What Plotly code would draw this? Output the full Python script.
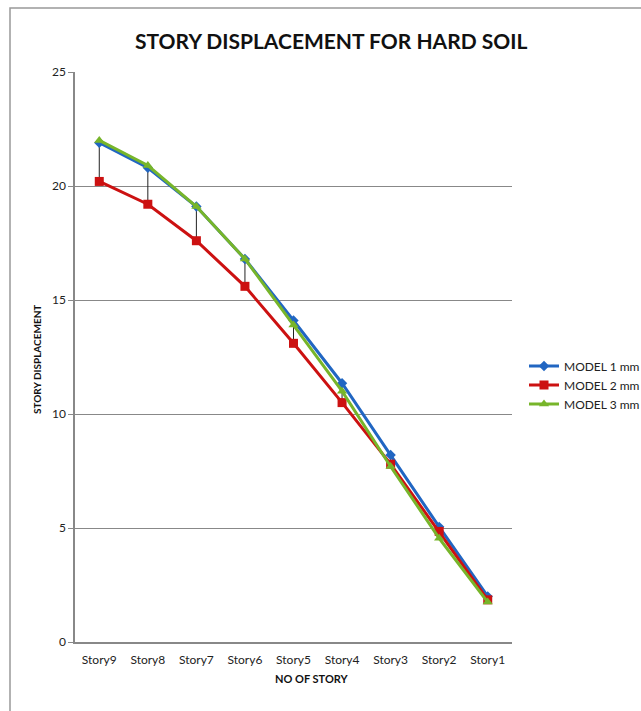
import plotly.graph_objects as go

categories = ["Story9", "Story8", "Story7", "Story6", "Story5", "Story4", "Story3", "Story2", "Story1"]
model1 = [21.9, 20.8, 19.1, 16.8, 14.1, 11.35, 8.2, 5.05, 2.0]
model2 = [20.2, 19.2, 17.6, 15.6, 13.1, 10.5, 7.8, 4.85, 1.85]
model3 = [22.0, 20.9, 19.1, 16.8, 13.9, 11.0, 7.7, 4.55, 1.75]
series_names = ["MODEL 1 mm", "MODEL 2 mm", "MODEL 3 mm"]
y_ticks = [0, 5, 10, 15, 20, 25]

FONT = "Lato"
W, H = 641, 711
L, R, T, B = 75, 129, 72, 69
pw, ph = W - L - R, H - T - B

def px_x(p):
    return (p - L) / pw

def px_y(p):
    return (H - B - p) / ph

fig = go.Figure()

# high-low drop lines
hx, hy = [], []
for c, a, b, d in zip(categories, model1, model2, model3):
    hx += [c, c, None]
    hy += [max(a, b, d), min(a, b, d), None]
fig.add_trace(go.Scatter(x=hx, y=hy, mode="lines", line=dict(color="#222222", width=1),
                         showlegend=False, hoverinfo="skip"))

styles = [
    ("#2166C2", "diamond", 8),
    ("#CC1111", "square", 9),
    ("#77B52A", "triangle-up", 9),
]
for name, vals, (col, sym, sz) in zip(series_names, [model1, model2, model3], styles):
    fig.add_trace(go.Scatter(x=categories, y=vals, mode="lines+markers", name=name,
                             line=dict(color=col, width=3),
                             marker=dict(symbol=sym, size=sz, color=col)))

fig.update_layout(
    width=W, height=H,
    margin=dict(l=L, r=R, t=T, b=B, autoexpand=False),
    paper_bgcolor="white", plot_bgcolor="white",
    font=dict(family=FONT, size=12, color="#222222"),
    legend=dict(x=px_x(524), y=px_y(385), xanchor="left", yanchor="middle",
                font=dict(size=12, family=FONT, color="#222222"), bgcolor="rgba(0,0,0,0)",
                tracegroupgap=2),
    xaxis=dict(type="category", range=[-0.5, 8.5], showgrid=False,
               showline=True, linecolor="#888888", linewidth=1.5,
               ticks="outside", ticklen=6, tickcolor="rgba(0,0,0,0)",
               tickfont=dict(size=12), title=None),
    yaxis=dict(range=[0, 25], tickvals=y_ticks, showgrid=True, gridcolor="#888888",
               gridwidth=1.3, zeroline=False, showline=True, linecolor="#888888",
               linewidth=1.5, ticks="outside", ticklen=5, tickcolor="#888888",
               tickfont=dict(size=12), title=None),
    shapes=[dict(type="rect", xref="paper", yref="paper",
                 x0=px_x(10), x1=px_x(700), y0=px_y(760), y1=px_y(8),
                 line=dict(color="#999999", width=1.5), layer="below")],
    annotations=[
        dict(text="<b>STORY DISPLACEMENT FOR HARD SOIL</b>", xref="paper", yref="paper",
             x=px_x(331), y=px_y(40), xanchor="center", yanchor="middle",
             showarrow=False, font=dict(size=21, family=FONT, color="#111111")),
        dict(text="<b>NO OF STORY</b>", xref="paper", yref="paper",
             x=px_x(312), y=px_y(678), xanchor="center", yanchor="middle",
             showarrow=False, font=dict(size=11, family=FONT, color="#111111")),
        dict(text="<b>STORY DISPLACEMENT</b>", xref="paper", yref="paper",
             x=px_x(37), y=px_y(360), xanchor="center", yanchor="middle", textangle=-90,
             showarrow=False, font=dict(size=10, family=FONT, color="#111111")),
    ],
)

fig.write_html("out.html")
